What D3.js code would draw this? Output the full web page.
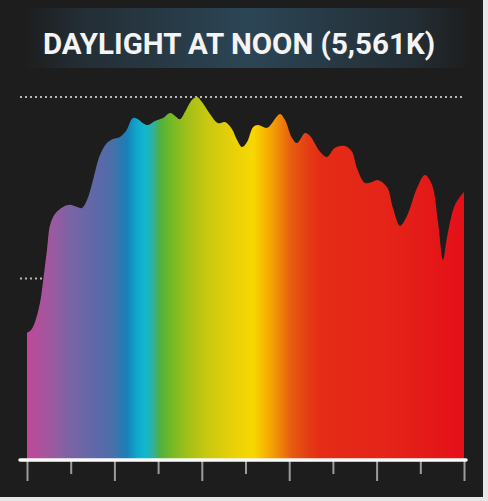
<!DOCTYPE html>
<html>
<head>
<meta charset="utf-8">
<script src="https://cdn.jsdelivr.net/npm/d3@7"></script>
<style>
  html, body { margin: 0; padding: 0; background: #e6e6e6; }
  svg { display: block; }
</style>
</head>
<body>
<div id="chart"></div>
<script>
const title = "DAYLIGHT AT NOON (5,561K)";

// wavelength (nm) and relative spectral power (% of peak)
const wavelengths = [
  380, 383.7, 387.3, 391.9, 394.6, 398.3, 401.1, 405.6, 413, 419.4,
  425.8, 430.3, 434.9, 440.4, 446.8, 453.2, 458.7, 465.1, 470.6, 477,
  481.6, 486.2, 490.8, 497.2, 504.5, 510.9, 515.5, 520, 524.6, 531,
  535.6, 540.2, 547.5, 554.8, 561.2, 567.6, 572.2, 576.8, 581.4, 586.9,
  591.4, 599.7, 604.2, 611.6, 616.1, 622.6, 627.1, 634.5, 639, 648.2,
  654.6, 661.9, 671.1, 677.5, 682, 689.4, 695.8, 701.3, 709.5, 715,
  721.4, 727.8, 737, 744.3, 750.7, 756.2, 760.8, 764.4, 771.8, 780
];
const power = [
  35.0, 35.8, 38.0, 43.3, 49.0, 57.9, 64.7, 67.8, 69.7, 70.3,
  69.7, 69.4, 71.6, 77.1, 84.0, 87.3, 88.4, 89.0, 90.6, 94.2,
  93.9, 92.8, 92.3, 93.4, 94.2, 95.6, 94.8, 93.9, 95.9, 99.2,
  100.0, 98.6, 95.3, 92.8, 93.1, 91.2, 88.2, 86.2, 87.6, 91.7,
  92.3, 91.5, 92.8, 95.3, 93.7, 88.7, 87.3, 90.1, 89.3, 84.9,
  83.5, 86.0, 86.5, 84.9, 80.4, 76.3, 76.6, 77.1, 75.2, 69.4,
  64.5, 67.2, 74.9, 78.5, 75.8, 65.6, 55.1, 61.2, 70.3, 73.8
];

const majorTicks = [380, 460, 540, 620, 700, 780];
const minorTicks = [420, 500, 580, 660, 740];
const gridValues = [50, 100];

// spectrum colour at wavelength
const spectrumNm = [380, 404, 419, 444, 459, 465, 471.5, 480.7, 488, 495.3, 501.7, 510.9, 526.4, 544.8, 568.6, 586.9, 599.7, 608.8, 620.7, 636.3, 648.2, 709.5, 780];
const spectrumColors = ["#c04898", "#9a5aa0", "#7a64a4", "#5e68a8", "#4870a8", "#2e78b0", "#1a80b8", "#10a8cc", "#10b8d0", "#30b0a0", "#50b040", "#70b828", "#a0c018", "#c8c810", "#e8d008", "#f8d800", "#f8b000", "#f09008", "#e86010", "#e43e14", "#e42c16", "#e42418", "#e41018"];

const data = wavelengths.map((w, i) => ({ w, v: power[i] }));

const width = 488;
const height = 501;
const panel = { w: 483, h: 497 };

const x = d3.scaleLinear().domain([380, 780]).range([27, 464]);
const y = d3.scaleLinear().domain([0, 100]).range([460, 97]);

const svg = d3.select("#chart")
  .append("svg")
  .attr("width", width)
  .attr("height", height);

svg.append("rect")
  .attr("width", panel.w)
  .attr("height", panel.h)
  .attr("fill", "#1d1d1d");

const defs = svg.append("defs");

const banner = defs.append("linearGradient")
  .attr("id", "banner")
  .attr("x1", 0).attr("x2", 1).attr("y1", 0).attr("y2", 0);
banner.selectAll("stop")
  .data([["0%", "#1d1d1d"], ["12%", "#232d34"], ["50%", "#2c4555"], ["88%", "#232d34"], ["100%", "#1d1d1d"]])
  .join("stop")
  .attr("offset", (d) => d[0])
  .attr("stop-color", (d) => d[1]);

const spectrum = defs.append("linearGradient")
  .attr("id", "spectrum")
  .attr("gradientUnits", "userSpaceOnUse")
  .attr("x1", x(380)).attr("x2", x(780))
  .attr("y1", 0).attr("y2", 0);
spectrum.selectAll("stop")
  .data(spectrumNm)
  .join("stop")
  .attr("offset", (d) => (d - 380) / 400)
  .attr("stop-color", (d, i) => spectrumColors[i]);

// title banner
svg.append("rect")
  .attr("x", 24).attr("y", 8)
  .attr("width", 446).attr("height", 60)
  .attr("fill", "url(#banner)");

svg.append("text")
  .attr("x", 239)
  .attr("y", 54)
  .attr("text-anchor", "middle")
  .attr("fill", "#f4f4f4")
  .attr("font-family", "Roboto, 'Open Sans', sans-serif")
  .attr("font-weight", "bold")
  .attr("font-size", 30)
  .attr("textLength", 392)
  .attr("lengthAdjust", "spacingAndGlyphs")
  .text(title);

// dotted reference lines
svg.append("g")
  .selectAll("line")
  .data(gridValues)
  .join("line")
  .attr("x1", 20)
  .attr("x2", 464)
  .attr("y1", (d) => y(d))
  .attr("y2", (d) => y(d))
  .attr("stroke", "#b8b8b8")
  .attr("stroke-width", 2)
  .attr("stroke-dasharray", "2,3");

// spectral area
const area = d3.area()
  .x((d) => x(d.w))
  .y0(y(0))
  .y1((d) => y(d.v))
  .curve(d3.curveCatmullRom.alpha(0.5));

svg.append("path")
  .datum(data)
  .attr("fill", "url(#spectrum)")
  .attr("d", area);

// axis
const axisG = svg.append("g")
  .attr("transform", `translate(0,${y(0) + 1})`);

axisG.call(
  d3.axisBottom(x)
    .tickValues(majorTicks)
    .tickSize(20)
    .tickFormat("")
);
axisG.append("g").call(
  d3.axisBottom(x)
    .tickValues(minorTicks)
    .tickSize(13)
    .tickFormat("")
);
axisG.selectAll(".domain").remove();
axisG.selectAll(".tick line")
  .attr("stroke", "#9c9c9c")
  .attr("stroke-width", 2);

svg.append("line")
  .attr("x1", x(380) - 7)
  .attr("x2", x(780) + 2)
  .attr("y1", y(0))
  .attr("y2", y(0))
  .attr("stroke", "#fbfbfb")
  .attr("stroke-width", 3.5)
  .attr("stroke-linecap", "round");
</script>
</body>
</html>
